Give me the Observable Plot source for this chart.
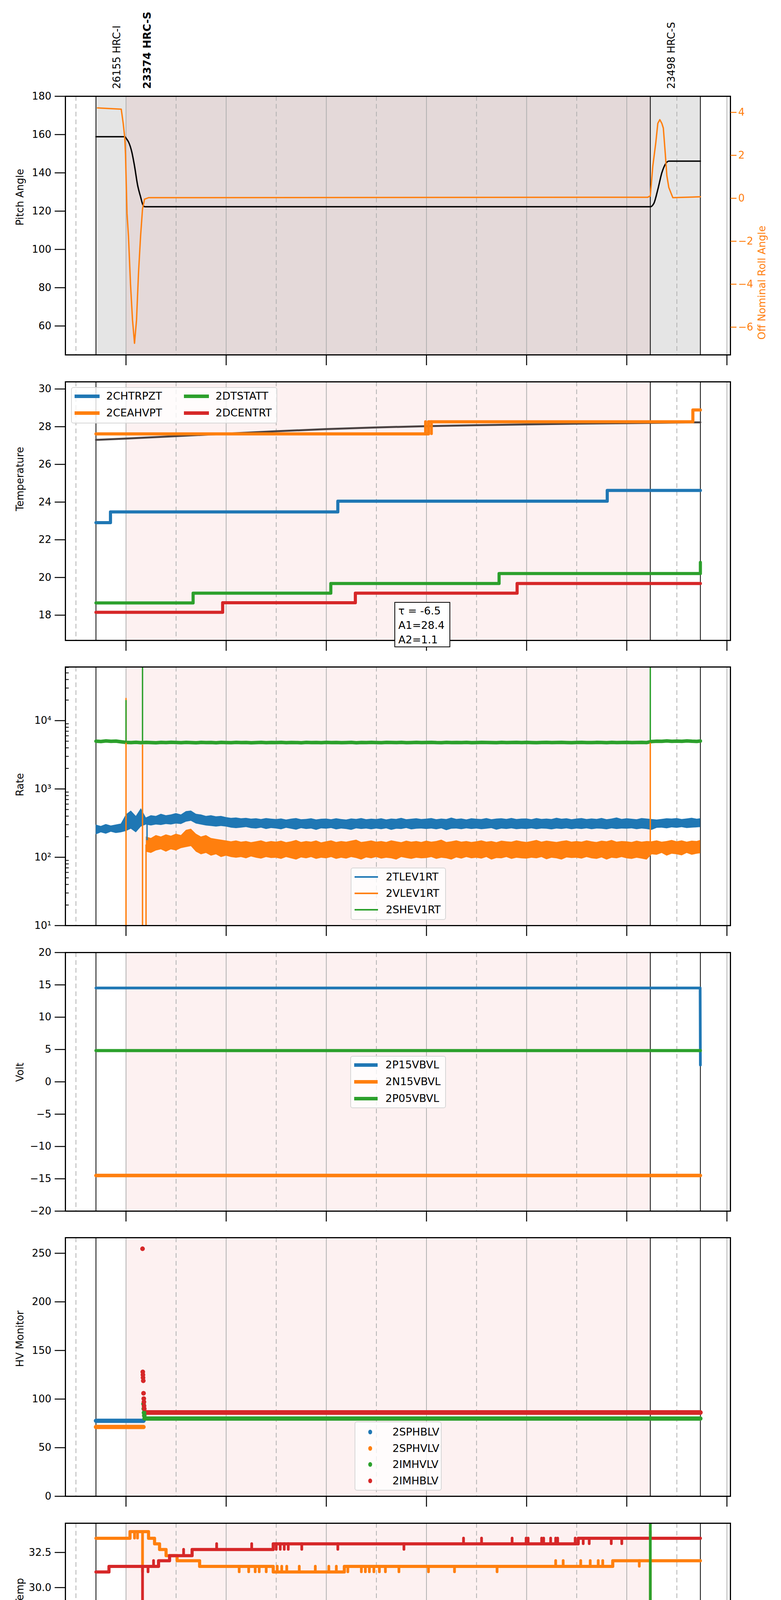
<!DOCTYPE html>
<html>
<head>
<meta charset="utf-8">
<script src="https://cdn.jsdelivr.net/npm/d3@7"></script>
<script src="https://cdn.jsdelivr.net/npm/@observablehq/plot@0.6"></script>
<style>
  html, body { margin: 0; padding: 0; background: #fff; font-family: "DejaVu Sans", sans-serif; }
  #page { position: relative; width: 2000px; height: 5400px; overflow: hidden; }
  .legend { position: absolute; background: rgba(255,255,255,0.8); border: 2px solid #d6d6d6; border-radius: 6px; box-sizing: border-box; font-size: 27px; z-index: 5; }
  .legend .row { position: absolute; height: 34px; line-height: 34px; white-space: nowrap; }
  .legend .sw { position: absolute; }
  .fitbox { position: absolute; border: 2px solid #000; background: #fff; box-sizing: border-box; font-size: 27px; line-height: 37px; padding: 2px 8px; z-index: 5; }
</style>
</head>
<body>
<div id="page"></div>
<script>
// ---- shared time axis (hours of 2021-10-13) ----
const X_DOMAIN = [2.79, 16.07];
const evenHours = [4, 6, 8, 10, 12, 14, 16];
const oddHours = [3, 5, 7, 9, 11, 13, 15];
const obsEdges = [3.40, 14.47, 15.47];
const shadeStart = [4.0];
const shadeEnd = [14.47];
const grayStart = [3.40];
const grayEnd = [15.47];
const dateLabel = "2021-10-13 (286)";

const obsLabelTime = [3.40, 4.0, 14.47];
const obsLabel = ["26155 HRC-I", "23374 HRC-S", "23498 HRC-S"];
const obsBold = [false, true, false];

const BLUE = "#1f77b4", ORANGE = "#ff7f0e", GREEN = "#2ca02c", RED = "#d62728";
const PALETTE = [BLUE, ORANGE, GREEN, RED];
const FONT = "DejaVu Sans";

// ---- panel 1: pitch / roll ----
const pitchTime = [3.40, 3.975, 4.01, 4.053, 4.115, 4.17, 4.23, 4.29, 4.35, 4.38, 14.47, 14.54, 14.62, 14.70, 14.78, 14.84, 15.47];
const pitchVal = [158.9, 158.9, 157.8, 156, 151, 143.6, 133.8, 127.6, 122.6, 122.3, 122.3, 124, 131.3, 140, 144.9, 146.1, 146.1];
const rollTime = [3.43, 3.905, 3.944, 3.975, 3.99, 4.02, 4.05, 4.09, 4.13, 4.17, 4.21, 4.25, 4.29, 4.33, 4.37, 4.45, 14.42, 14.47, 14.52, 14.58, 14.62, 14.66, 14.70, 14.73, 14.77, 14.80, 14.84, 14.92, 15.47];
const rollVal = [4.21, 4.15, 3.49, 2.83, 2.06, -0.7, -1.8, -4.0, -5.67, -6.75, -5.67, -3.47, -1.8, -0.49, -0.04, 0.03, 0.05, 0.11, 1.5, 2.6, 3.49, 3.66, 3.49, 3.27, 2.05, 1.06, 0.5, 0.03, 0.07];
const pitchTicks = [60, 80, 100, 120, 140, 160, 180];
const rollTicks = [-6, -4, -2, 0, 2, 4];

// ---- panel 2: temperature ----
const tempNames = ["2CHTRPZT", "2CEAHVPT", "2DTSTATT", "2DCENTRT"];
const chtrpztTime = [3.40, 3.69, 8.23, 13.61, 15.47];
const chtrpztVal = [22.91, 23.48, 24.05, 24.62, 24.62];
const ceahvptTime = [3.40, 10.04, 15.32, 15.47];
const ceahvptVal = [27.62, 28.26, 28.89, 28.89];
const dtstattTime = [3.40, 5.34, 8.09, 11.45, 15.46, 15.47];
const dtstattVal = [18.65, 19.17, 19.68, 20.21, 20.21, 20.8];
const dcentrtTime = [3.40, 5.93, 8.58, 11.81, 15.47];
const dcentrtVal = [18.15, 18.66, 19.17, 19.68, 19.68];
const fitTime = [3.40, 4, 5, 6, 7, 8, 9, 10, 11, 12, 13, 14, 15, 15.47];
const fitVal = [27.30, 27.37, 27.50, 27.63, 27.76, 27.87, 27.96, 28.03, 28.08, 28.12, 28.16, 28.19, 28.22, 28.23];
const tempSpikeTime = [9.98, 10.10];
const tempSpikeFrom = [27.62, 28.26];
const tempSpikeTo = [28.26, 27.62];
const tempSpikeSeries = ["2CEAHVPT", "2CEAHVPT"];
const tempTicks = [18, 20, 22, 24, 26, 28, 30];
const fitText = ["τ = -6.5", "A1=28.4", "A2=1.1"];

// ---- panel 3: rates (log) ----
const rateNames = ["2TLEV1RT", "2VLEV1RT", "2SHEV1RT"];
const rateTime = [
  3.4, 3.5, 3.6, 3.7, 3.8, 3.9,
  4.0, 4.1, 4.2, 4.3, 4.4, 4.5, 4.6, 4.7, 4.8, 4.9,
  5.0, 5.1, 5.2, 5.3, 5.4, 5.5, 5.6, 5.7, 5.8, 5.9,
  6.0, 6.1, 6.2, 6.3, 6.4, 6.5, 6.6, 6.7, 6.8, 6.9,
  7.0, 7.1, 7.2, 7.3, 7.4, 7.5, 7.6, 7.7, 7.8, 7.9,
  8.0, 8.1, 8.2, 8.3, 8.4, 8.5, 8.6, 8.7, 8.8, 8.9,
  9.0, 9.1, 9.2, 9.3, 9.4, 9.5, 9.6, 9.7, 9.8, 9.9,
  10.0, 10.1, 10.2, 10.3, 10.4, 10.5, 10.6, 10.7, 10.8, 10.9,
  11.0, 11.1, 11.2, 11.3, 11.4, 11.5, 11.6, 11.7, 11.8, 11.9,
  12.0, 12.1, 12.2, 12.3, 12.4, 12.5, 12.6, 12.7, 12.8, 12.9,
  13.0, 13.1, 13.2, 13.3, 13.4, 13.5, 13.6, 13.7, 13.8, 13.9,
  14.0, 14.1, 14.2, 14.3, 14.4, 14.5, 14.6, 14.7, 14.8, 14.9,
  15.0, 15.1, 15.2, 15.3, 15.4, 15.47
];
const tlevHi = [
  300, 285, 305, 290, 300, 310,
  420, 480, 400, 520, 380, 410, 400, 430, 410, 420,
  440, 420, 470, 480, 430, 420, 400, 410, 395, 400,
  385, 375, 380, 370, 375, 365, 370, 360, 372, 365,
  360, 368, 355, 365, 372, 358, 362, 370, 356, 364,
  366, 358, 370, 360, 355, 368, 362, 372, 358, 365,
  360, 370, 356, 366, 362, 375, 358, 364, 370, 360,
  365, 372, 358, 366, 360, 378, 362, 368, 356, 370,
  364, 360, 372, 358, 366, 370, 362, 374, 360, 366,
  368, 358, 372, 362, 366, 360, 376, 364, 370, 358,
  366, 372, 360, 368, 362, 374, 358, 366, 380, 362,
  370, 364, 358, 372, 366, 360, 355, 362, 370, 366,
  372, 360, 368, 376, 364, 370
];
const tlevLo = [
  215, 230, 220, 235, 225, 230,
  240, 260, 230, 280, 300, 290, 300, 295, 305, 300,
  310, 305, 330, 340, 310, 300, 290, 285, 280, 285,
  280, 270, 265, 270, 275, 265, 262, 270, 258, 266,
  262, 255, 268, 260, 252, 265, 258, 262, 250, 264,
  260, 266, 254, 262, 258, 250, 264, 258, 262, 255,
  262, 256, 264, 250, 260, 258, 266, 254, 260, 262,
  258, 262, 255, 264, 248, 260, 262, 256, 264, 258,
  262, 256, 260, 265, 252, 262, 258, 264, 256, 260,
  258, 264, 256, 262, 260, 254, 262, 258, 264, 256,
  262, 258, 264, 256, 262, 260, 255, 264, 258, 262,
  260, 264, 256, 262, 258, 250, 268, 270, 264, 272,
  268, 274, 266, 270, 272, 275
];
const vlevHi = [
  null, null, null, null, null, null,
  null, null, null, null, 200, 190, 210, 200, 215, 205,
  220, 210, 250, 260, 220, 200, 210, 190, 185, 180,
  175, 170, 175, 168, 172, 165, 170, 176, 166, 172,
  168, 174, 165, 170, 178, 166, 172, 168, 175, 164,
  170, 176, 166, 172, 168, 174, 180, 166, 170, 175,
  168, 172, 166, 176, 170, 165, 174, 168, 172, 166,
  174, 168, 172, 180, 166, 170, 176, 168, 172, 166,
  170, 176, 168, 172, 165, 174, 170, 168, 176, 170,
  166, 172, 178, 168, 174, 170, 166, 172, 176, 168,
  172, 168, 176, 170, 166, 174, 170, 178, 168, 172,
  170, 166, 174, 168, 172, 170, 176, 168, 172, 178,
  170, 176, 168, 174, 172, 178
];
const vlevLo = [
  null, null, null, null, null, null,
  null, null, null, null, 120, 115, 125, 130, 120, 130,
  125, 135, 140, 145, 120, 110, 115, 105, 110, 100,
  105, 100, 98, 100, 96, 102, 98, 95, 100, 97,
  98, 94, 100, 96, 92, 99, 96, 100, 94, 98,
  96, 100, 94, 98, 95, 100, 97, 92, 99, 96,
  100, 95, 98, 96, 92, 100, 97, 94, 98, 96,
  97, 100, 94, 98, 96, 92, 99, 95, 100, 96,
  98, 95, 100, 92, 97, 96, 100, 94, 98, 96,
  95, 98, 96, 100, 93, 98, 96, 92, 99, 97,
  98, 95, 100, 96, 94, 99, 92, 98, 96, 100,
  96, 94, 98, 95, 92, 110, 108, 115, 105, 112,
  110, 106, 115, 108, 112, 114
];
const shevVal = [
  5000, 4950, 5050, 4980, 5020, 4900,
  4800, 4780, 4820, 4760, 4800, 4780, 4750, 4800, 4770, 4820,
  4790, 4760, 4800, 4780, 4740, 4800, 4770, 4790, 4750, 4800,
  4780, 4760, 4800, 4770, 4790, 4750, 4780, 4800, 4760, 4790,
  4770, 4800, 4760, 4790, 4780, 4750, 4800, 4770, 4790, 4760,
  4800, 4770, 4790, 4760, 4780, 4800, 4750, 4790, 4770, 4800,
  4780, 4760, 4800, 4790, 4770, 4800, 4760, 4780, 4800, 4770,
  4790, 4800, 4770, 4760, 4800, 4780, 4790, 4770, 4800, 4760,
  4780, 4800, 4790, 4770, 4760, 4800, 4780, 4790, 4800, 4770,
  4800, 4780, 4760, 4790, 4800, 4770, 4790, 4800, 4780, 4760,
  4790, 4800, 4780, 4770, 4800, 4790, 4760, 4800, 4780, 4790,
  4800, 4770, 4790, 4800, 4780, 4950, 5000, 4980, 5050, 4990,
  5020, 4980, 5050, 5000, 4970, 5030
];
const rateSpikeTime = [4.0, 4.0, 4.33, 4.33, 4.40, 4.42, 14.47, 14.47];
const rateSpikeFrom = [10, 4800, 10, 4800, 10, 180, 130, 4800];
const rateSpikeTo = [21000, 19500, 4350, 100000, 150, 330, 4800, 100000];
const rateSpikeSeries = ["2VLEV1RT", "2SHEV1RT", "2VLEV1RT", "2SHEV1RT", "2VLEV1RT", "2TLEV1RT", "2VLEV1RT", "2SHEV1RT"];
const rateTicks = [10, 100, 1000, 10000];
const rateTickText = ["10¹", "10²", "10³", "10⁴"];
const rateMinor = [20, 30, 40, 50, 60, 70, 80, 90, 200, 300, 400, 500, 600, 700, 800, 900,
  2000, 3000, 4000, 5000, 6000, 7000, 8000, 9000, 20000, 30000, 40000, 50000, 60000];

// ---- panel 4: voltages ----
const voltNames = ["2P15VBVL", "2N15VBVL", "2P05VBVL"];
const p15Time = [3.40, 15.465, 15.47];
const p15Val = [14.52, 14.52, 2.6];
const n15Time = [3.40, 15.47];
const n15Val = [-14.49, -14.49];
const p05Time = [3.40, 15.47];
const p05Val = [4.84, 4.84];
const voltTicks = [-20, -15, -10, -5, 0, 5, 10, 15, 20];

// ---- panel 5: HV monitor ----
const hvNames = ["2SPHBLV", "2SPHVLV", "2IMHVLV", "2IMHBLV"];
const sphblvTime = [3.40, 4.35];
const sphblvVal = [77.7, 77.7];
const sphvlvTime = [3.40, 4.35];
const sphvlvVal = [71.3, 71.3];
const imhvlvTime = [4.37, 15.47];
const imhvlvVal = [80.0, 80.0];
const imhblvTime = [4.37, 15.47];
const imhblvVal = [86.2, 86.2];
const hvDotTime = [4.35, 4.355, 4.36, 4.365, 4.33, 4.335, 4.338, 4.34, 4.345, 4.35, 4.355, 4.358, 4.36, 4.365];
const hvDotVal = [95, 90, 86, 83, 254.6, 128, 125, 122, 118.8, 106, 100.5, 97, 93, 90];
const hvDotSeries = ["2IMHVLV", "2IMHVLV", "2IMHVLV", "2IMHVLV", "2IMHBLV", "2IMHBLV", "2IMHBLV", "2IMHBLV", "2IMHBLV", "2IMHBLV", "2IMHBLV", "2IMHBLV", "2IMHBLV", "2IMHBLV"];
const hvTicks = [0, 50, 100, 150, 200, 250];

// ---- panel 6: detector temps ----
const detNames = ["2SPINATM", "2SPHVATM", "2IMINATM", "2IMHVATM"];
const spinTime = [3.40, 7.73, 12.12, 15.47];
const spinVal = [17.63, 18.30, 18.94, 18.94];
const sphvTime = [3.40, 4.08, 4.45, 4.57, 4.67, 4.80, 5.02, 5.47, 6.94, 8.36, 13.72, 15.47];
const sphvVal = [33.51, 33.98, 33.51, 33.11, 32.71, 32.27, 31.91, 31.51, 31.11, 31.51, 31.91, 31.91];
const iminTime = [3.40, 4.57, 7.66, 11.95, 15.47];
const iminVal = [18.27, 18.94, 19.61, 20.30, 20.30];
const imhvTime = [3.40, 3.66, 4.65, 4.87, 5.32, 6.94, 13.03, 15.47];
const imhvVal = [31.11, 31.51, 31.91, 32.27, 32.71, 33.11, 33.51, 33.51];
const detSpikeTime = [
  4.17, 4.23, 4.33, 6.26, 6.45, 6.58, 6.66, 6.80, 7.02, 7.11, 7.21, 7.46, 7.78, 8.05, 8.20,
  8.43, 8.70, 8.78, 8.86, 8.95, 9.06, 9.18, 9.45, 10.04, 10.56, 11.41,
  12.58, 12.73, 13.08, 13.27, 13.43, 13.52, 14.25, 14.47,
  4.33, 4.44, 4.55, 5.15, 5.81, 6.51, 7.00, 7.08, 7.16, 7.24, 7.51, 8.23, 9.55,
  10.74, 11.10, 11.71, 11.99, 12.03, 12.30, 12.34, 12.48, 12.58, 12.62, 12.97,
  13.13, 13.25, 13.69, 13.90, 14.47,
  4.42, 4.50, 7.60, 11.90, 12.20, 14.47,
  12.01, 12.06, 12.27
];
const detSpikeFrom = [
  33.98, 33.98, 33.98, 31.51, 31.51, 31.51, 31.51, 31.51, 31.11, 31.11, 31.11, 31.11, 31.11, 31.11, 31.11,
  31.51, 31.51, 31.51, 31.51, 31.51, 31.51, 31.51, 31.51, 31.51, 31.51, 31.51,
  31.51, 31.51, 31.51, 31.51, 31.51, 31.51, 31.91, 31.91,
  31.51, 31.51, 31.51, 32.27, 32.71, 32.71, 33.11, 33.11, 33.11, 33.11, 33.11, 33.11, 33.11,
  33.11, 33.11, 33.11, 33.11, 33.11, 33.11, 33.11, 33.11, 33.11, 33.11, 33.11,
  33.51, 33.51, 33.51, 33.51, 33.51,
  18.27, 18.27, 18.94, 19.61, 20.30, 20.30,
  18.30, 18.30, 18.94
];
const detSpikeTo = [
  33.51, 33.51, 31.11, 31.11, 31.11, 31.11, 31.11, 31.11, 31.51, 31.51, 31.51, 31.51, 31.51, 31.51, 31.51,
  31.11, 31.11, 31.11, 31.11, 31.11, 31.11, 31.11, 31.11, 31.11, 31.11, 31.11,
  31.91, 31.91, 31.91, 31.91, 31.91, 31.91, 31.51, 15,
  15, 31.11, 31.91, 32.71, 33.11, 33.11, 32.71, 32.71, 32.71, 32.71, 32.71, 32.71, 32.71,
  33.51, 33.51, 33.51, 33.51, 33.51, 33.51, 33.51, 33.51, 33.51, 33.51, 33.51,
  33.11, 33.11, 33.11, 33.11, 34.00,
  18.94, 18.94, 19.61, 20.30, 19.61, 40,
  18.94, 18.94, 18.30
];
const detSpikeSeries = [
  ...Array(34).fill("2SPHVATM"),
  ...Array(29).fill("2IMHVATM"),
  ...Array(6).fill("2IMINATM"),
  ...Array(3).fill("2SPINATM")
];
const detTicks = [17.5, 20.0, 22.5, 25.0, 27.5, 30.0, 32.5];

// ---- panel 7: FEA temps ----
const feaNames = ["2FHTRMZT", "2FRADPYT", "2FEPRATM", "2FE00ATM"];
const fhtrTime = [3.40, 4.75, 8.73, 12.68, 15.47];
const fhtrVal = [21.27, 21.80, 22.35, 22.91, 22.91];
const fradTime = [3.40, 3.77, 4.22, 4.44, 7.03, 10.91, 15.11, 15.47];
const fradVal = [16.67, 17.16, 17.65, 17.16, 17.65, 18.15, 18.65, 18.65];
const feprTime = [3.40, 5.92, 11.88, 15.47];
const feprVal = [23.13, 23.88, 24.62, 24.62];
const fe00Time = [3.40, 4.35, 6.94, 9.90, 12.80, 15.47];
const fe00Val = [21.39, 21.72, 22.03, 22.35, 22.66, 22.66];
const feaSpikeTime = [
  4.33, 5.78, 5.83, 5.86, 5.89, 5.96, 6.00, 6.03, 6.06, 6.09, 6.11, 11.92, 11.95, 11.97, 12.00, 12.06, 14.47,
  4.33, 4.45, 4.51, 4.63, 4.66, 4.92, 4.99, 5.35, 5.47, 5.52, 5.59, 5.62, 5.83, 5.86, 6.03,
  6.48, 6.51, 6.66, 6.95, 7.00, 7.05, 7.10, 7.15, 7.42, 7.80, 8.02, 8.23, 8.47, 8.57, 8.60,
  8.82, 8.85, 8.95, 8.98, 9.08, 9.23, 9.28, 9.40, 9.48, 9.60, 9.70, 9.80,
  10.02, 10.20, 10.28, 10.41, 10.46, 10.66, 10.70, 10.74, 11.49, 11.53, 11.60, 11.64, 11.68, 11.80,
  12.28, 12.36, 12.45, 12.48, 12.52, 12.81, 12.85, 13.01, 13.18, 13.26, 13.48, 13.55, 13.60, 13.63,
  13.70, 13.78, 13.90, 13.95, 14.00, 14.03, 14.47
];
const feaSpikeFrom = [
  23.13, 23.13, 23.13, 23.13, 23.13, 23.88, 23.88, 23.88, 23.88, 23.88, 23.88, 24.62, 24.62, 24.62, 24.62, 24.62, 24.62,
  21.39, 21.72, 21.72, 21.72, 21.72, 21.72, 21.72, 21.72, 21.72, 21.72, 21.72, 21.72, 21.72, 21.72, 21.72,
  21.72, 21.72, 21.72, 22.03, 22.03, 22.03, 22.03, 22.03, 22.03, 22.03, 22.03, 22.03, 22.03, 22.03, 22.03,
  22.03, 22.03, 22.03, 22.03, 22.03, 22.03, 22.03, 22.03, 22.03, 22.03, 22.03, 22.03,
  22.35, 22.35, 22.35, 22.35, 22.35, 22.35, 22.35, 22.35, 22.35, 22.35, 22.35, 22.35, 22.35, 22.35,
  22.35, 22.35, 22.35, 22.35, 22.35, 22.66, 22.66, 22.66, 22.66, 22.66, 22.66, 22.66, 22.66, 22.66,
  22.66, 22.66, 22.66, 22.66, 22.66, 22.66, 22.66
];
const feaSpikeTo = [
  21.70, 23.88, 23.88, 23.88, 23.88, 23.13, 23.13, 23.13, 23.13, 23.13, 23.13, 23.88, 23.88, 23.88, 23.88, 23.88, 22.60,
  15, 22.69, 21.39, 21.09, 21.09, 22.35, 21.39, 21.09, 21.39, 20.76, 21.09, 22.03, 22.03, 21.39, 22.03,
  22.35, 21.39, 22.30, 20.14, 21.72, 21.72, 21.72, 21.72, 21.72, 22.66, 22.35, 20.76, 22.66, 23.02, 21.09,
  23.02, 21.09, 23.02, 21.39, 21.72, 22.35, 21.72, 21.09, 21.72, 22.35, 22.35, 22.35,
  22.66, 21.39, 21.39, 21.90, 23.33, 21.90, 21.39, 23.02, 23.33, 23.66, 21.90, 23.66, 22.66, 21.72,
  23.02, 21.90, 23.02, 21.72, 21.72, 21.39, 22.35, 23.66, 22.30, 23.33, 21.90, 23.02, 23.33, 21.72,
  23.66, 23.02, 23.66, 21.72, 23.02, 21.90, 15
];
const feaSpikeSeries = [
  ...Array(17).fill("2FEPRATM"),
  ...Array(77).fill("2FE00ATM")
];
const feaTicks = [16, 18, 20, 22, 24];

// ---- layout helpers ----
const page = document.getElementById("page");
const hourLabel = (h) => String(h).padStart(2, "0") + "h";

function place(node, top) {
  const div = document.createElement("div");
  div.style.cssText = `position:absolute;left:0;top:${top}px;width:2000px;`;
  div.append(node);
  page.append(div);
  return div;
}

function guides(shading) {
  return [
    ...shading,
    Plot.ruleX(oddHours, {stroke: "#b0b0b0", strokeWidth: 2, strokeDasharray: "12,8"}),
    Plot.ruleX(evenHours, {stroke: "#b0b0b0", strokeWidth: 2}),
    Plot.ruleX(obsEdges, {stroke: "black", strokeWidth: 2})
  ];
}

const pinkShade = [Plot.rect(shadeStart, {x1: shadeStart, x2: shadeEnd, fill: "#fdf1f1"})];

function axes({yTicks, yFormat, yLabel, xLabels = false}) {
  const m = [
    Plot.frame({stroke: "black", strokeWidth: 3}),
    Plot.axisY({ticks: yTicks, tickFormat: yFormat, tickSize: 27, tickPadding: 9, fontSize: 26, strokeWidth: 2.5, label: null}),
    Plot.axisX({ticks: evenHours, tickSize: 27, strokeWidth: 2.5, tickPadding: 10, fontSize: 26, label: null,
      tickFormat: xLabels ? hourLabel : () => ""}),
    Plot.text([yLabel], {text: (d) => d, frameAnchor: "left", dx: -116, rotate: -90, fontSize: 26})
  ];
  if (xLabels) {
    m.push(
      Plot.axisX({ticks: oddHours, tickSize: 0, tickPadding: 7, fontSize: 19, tickFormat: hourLabel, label: null}),
      Plot.text([dateLabel], {text: (d) => d, frameAnchor: "bottom", dy: 89, fontSize: 31})
    );
  }
  return m;
}

function panel({top, height, marginTop = 4, marginBottom, y, color, marks}) {
  const chart = Plot.plot({
    width: 2000, height, marginLeft: 167, marginRight: 130, marginTop, marginBottom,
    style: {fontFamily: FONT, background: "transparent", overflow: "visible"},
    x: {domain: X_DOMAIN, axis: null, label: null},
    y: {...y, axis: null, label: null},
    color: color ? {domain: color, range: PALETTE} : undefined,
    marks
  });
  return place(chart, top);
}

function stepLine(time, val, stroke, width = 8) {
  return Plot.line(val, {x: time, y: val, stroke, strokeWidth: width, curve: "step-after", clip: true});
}

function spikes(time, from, to, series, width = 7) {
  return Plot.ruleX(time, {x: time, y1: from, y2: to, stroke: series, strokeWidth: width, strokeLinecap: "round", clip: true});
}

// ---- panel 1 ----
const obsRows = obsLabel.map((label, i) => ({label, t: obsLabelTime[i], bold: obsBold[i]}));
panel({
  top: 0, height: 973, marginTop: 246, marginBottom: 65,
  y: {domain: [44.9, 180]},
  marks: [
    ...guides([
      Plot.rect(grayStart, {x1: grayStart, x2: grayEnd, fill: "#e5e5e5"}),
      Plot.rect(shadeStart, {x1: shadeStart, x2: shadeEnd, fill: "#e4d9d9"})
    ]),
    Plot.line(pitchVal, {x: pitchTime, y: pitchVal, stroke: "black", strokeWidth: 3.5, curve: "monotone-x"}),
    Plot.text(obsRows.filter((d) => !d.bold), {x: "t", text: "label", frameAnchor: "top", dy: -19, dx: 44, rotate: -90, textAnchor: "start", fontSize: 26}),
    Plot.text(obsRows.filter((d) => d.bold), {x: "t", text: "label", frameAnchor: "top", dy: -19, dx: 44, rotate: -90, textAnchor: "start", fontSize: 27, fontWeight: "bold"}),
    ...axes({yTicks: pitchTicks, yLabel: "Pitch Angle"})
  ]
});

const rollChart = Plot.plot({
  width: 2000, height: 973, marginLeft: 167, marginRight: 130, marginTop: 246, marginBottom: 65,
  style: {fontFamily: FONT, background: "transparent", color: ORANGE, overflow: "visible"},
  x: {domain: X_DOMAIN, axis: null, label: null},
  y: {domain: [-7.29, 4.75], axis: null, label: null},
  marks: [
    Plot.line(rollVal, {x: rollTime, y: rollVal, stroke: ORANGE, strokeWidth: 3.5}),
    Plot.axisY({anchor: "right", ticks: rollTicks, tickSize: 15, tickPadding: 5, fontSize: 26, strokeWidth: 2.5, color: ORANGE, label: null}),
    Plot.text(["Off Nominal Roll Angle"], {text: (d) => d, frameAnchor: "right", dx: 81, rotate: -90, fontSize: 26, fill: ORANGE})
  ]
});
place(rollChart, 0);

// ---- panel 2 ----
panel({
  top: 973, height: 730, marginBottom: 64,
  y: {domain: [16.66, 30.38]},
  color: tempNames,
  marks: [
    ...guides(pinkShade),
    Plot.line(fitVal, {x: fitTime, y: fitVal, stroke: "#4a4242", strokeWidth: 5}),
    stepLine(chtrpztTime, chtrpztVal, BLUE),
    stepLine(ceahvptTime, ceahvptVal, ORANGE),
    stepLine(dtstattTime, dtstattVal, GREEN),
    stepLine(dcentrtTime, dcentrtVal, RED),
    spikes(tempSpikeTime, tempSpikeFrom, tempSpikeTo, tempSpikeSeries),
    ...axes({yTicks: tempTicks, yLabel: "Temperature"})
  ]
});

// ---- panel 3 ----
panel({
  top: 1703, height: 731, marginBottom: 65,
  y: {type: "log", domain: [10, 61000]},
  color: rateNames,
  marks: [
    ...guides(pinkShade),
    Plot.areaY(rateTime, {x: rateTime, y1: tlevLo, y2: tlevHi, fill: BLUE, clip: true}),
    Plot.areaY(rateTime, {x: rateTime, y1: vlevLo, y2: vlevHi, fill: ORANGE, clip: true}),
    Plot.line(shevVal, {x: rateTime, y: shevVal, stroke: GREEN, strokeWidth: 9, clip: true}),
    spikes(rateSpikeTime, rateSpikeFrom, rateSpikeTo, rateSpikeSeries, 3.5),
    Plot.axisY({ticks: rateMinor, tickSize: 9, dx: 9, strokeWidth: 2, tickFormat: () => "", label: null}),
    ...axes({yTicks: rateTicks, yFormat: (d) => rateTickText[rateTicks.indexOf(d)], yLabel: "Rate"})
  ]
});

// ---- panel 4 ----
panel({
  top: 2434, height: 730, marginBottom: 64,
  y: {domain: [-20, 20]},
  marks: [
    ...guides(pinkShade),
    Plot.line(p15Val, {x: p15Time, y: p15Val, stroke: BLUE, strokeWidth: 7}),
    Plot.line(n15Val, {x: n15Time, y: n15Val, stroke: ORANGE, strokeWidth: 9}),
    Plot.line(p05Val, {x: p05Time, y: p05Val, stroke: GREEN, strokeWidth: 8}),
    ...axes({yTicks: voltTicks, yLabel: "Volt"})
  ]
});

// ---- panel 5 ----
panel({
  top: 3164, height: 731, marginBottom: 65,
  y: {domain: [0, 266]},
  color: hvNames,
  marks: [
    ...guides(pinkShade),
    Plot.line(sphblvVal, {x: sphblvTime, y: sphblvVal, stroke: BLUE, strokeWidth: 11, strokeLinecap: "round"}),
    Plot.line(sphvlvVal, {x: sphvlvTime, y: sphvlvVal, stroke: ORANGE, strokeWidth: 11, strokeLinecap: "round"}),
    Plot.line(imhvlvVal, {x: imhvlvTime, y: imhvlvVal, stroke: GREEN, strokeWidth: 11, strokeLinecap: "round"}),
    Plot.line(imhblvVal, {x: imhblvTime, y: imhblvVal, stroke: RED, strokeWidth: 12, strokeLinecap: "round"}),
    Plot.dot(hvDotVal, {x: hvDotTime, y: hvDotVal, fill: hvDotSeries, r: 6}),
    ...axes({yTicks: hvTicks, yLabel: "HV Monitor"})
  ]
});

// ---- panel 6 ----
panel({
  top: 3895, height: 729, marginBottom: 63,
  y: {domain: [16.17, 34.58]},
  color: detNames,
  marks: [
    ...guides(pinkShade),
    stepLine(spinTime, spinVal, BLUE),
    stepLine(sphvTime, sphvVal, ORANGE),
    spikes(detSpikeTime.slice(0, 34), detSpikeFrom.slice(0, 34), detSpikeTo.slice(0, 34), detSpikeSeries.slice(0, 34)),
    stepLine(iminTime, iminVal, GREEN),
    stepLine(imhvTime, imhvVal, RED),
    spikes(detSpikeTime.slice(34), detSpikeFrom.slice(34), detSpikeTo.slice(34), detSpikeSeries.slice(34)),
    ...axes({yTicks: detTicks, yFormat: (d) => d.toFixed(1), yLabel: "Detector Temp"})
  ]
});

// ---- panel 7 ----
panel({
  top: 4624, height: 776, marginBottom: 110,
  y: {domain: [15.66, 25.38]},
  color: feaNames,
  marks: [
    ...guides(pinkShade),
    stepLine(fhtrTime, fhtrVal, BLUE),
    stepLine(fradTime, fradVal, ORANGE),
    stepLine(feprTime, feprVal, GREEN),
    stepLine(fe00Time, fe00Val, RED),
    spikes(feaSpikeTime, feaSpikeFrom, feaSpikeTo, feaSpikeSeries),
    ...axes({yTicks: feaTicks, yLabel: "FEA Temp", xLabels: true})
  ]
});

// ---- legends (HTML overlays) ----
function legend({left, top, width, height, rows, rowTop, rowPitch, cols, textOffset, swatchW = 62, thick = 9, kind = "line", names}) {
  const box = document.createElement("div");
  box.className = "legend";
  box.style.cssText = `left:${left}px;top:${top}px;width:${width}px;height:${height}px;`;
  names.forEach((name, i) => {
    const col = Math.floor(i / rows), row = i % rows;
    const cy = rowTop + row * rowPitch;
    const sw = document.createElement("div");
    sw.className = "sw";
    if (kind === "dot") {
      sw.style.cssText = `left:${cols[col] + 25}px;top:${cy - 6}px;width:10px;height:12px;border-radius:50%;background:${PALETTE[i]};`;
    } else {
      sw.style.cssText = `left:${cols[col]}px;top:${cy - thick / 2}px;width:${swatchW}px;height:${thick}px;background:${PALETTE[i]};`;
    }
    const tx = document.createElement("div");
    tx.className = "row";
    tx.style.left = (cols[col] + textOffset) + "px";
    tx.style.top = (cy - 17) + "px";
    tx.textContent = name;
    box.append(sw, tx);
  });
  page.append(box);
}

legend({left: 182, top: 991, width: 528, height: 93, rows: 2, rowTop: 21, rowPitch: 43, cols: [7, 287], textOffset: 81, swatchW: 64, names: tempNames});
legend({left: 898, top: 2221, width: 244, height: 134, rows: 3, rowTop: 22, rowPitch: 42, cols: [8], textOffset: 80, swatchW: 60, thick: 4, names: rateNames});
legend({left: 897, top: 2703, width: 245, height: 134, rows: 3, rowTop: 21, rowPitch: 43, cols: [8], textOffset: 80, swatchW: 60, names: voltNames});
legend({left: 908, top: 3639, width: 223, height: 177, rows: 4, rowTop: 25, rowPitch: 41.7, cols: [8], textOffset: 87, kind: "dot", names: hvNames});
legend({left: 897, top: 4142, width: 247, height: 177, rows: 4, rowTop: 23, rowPitch: 41.7, cols: [6], textOffset: 82, swatchW: 63, names: detNames});
legend({left: 1607, top: 4872, width: 249, height: 176, rows: 4, rowTop: 23, rowPitch: 42, cols: [7], textOffset: 82, swatchW: 64, names: feaNames});

const fit = document.createElement("div");
fit.className = "fitbox";
fit.style.cssText = "left:1010px;top:1541px;width:143px;height:116px;";
fit.innerHTML = fitText.join("<br>");
page.append(fit);
</script>
</body>
</html>
